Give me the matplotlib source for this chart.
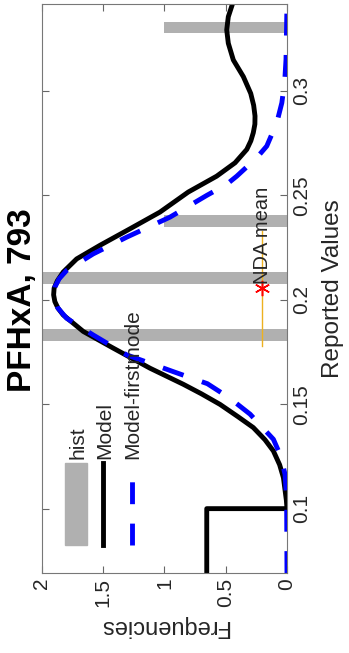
import matplotlib.pyplot as plt
from matplotlib.patches import Rectangle
from matplotlib.lines import Line2D

plt.rcParams['font.family'] = ['Liberation Sans', 'DejaVu Sans']

# histogram of reported values
hist_v = [0.1831, 0.2104, 0.2376, 0.3303]
hist_f = [2.0, 2.0, 1.0, 1.0]
bin_w = 0.0055

# full model
model_v = [0.0692, 0.1000, 0.1000, 0.1040, 0.1148, 0.1210, 0.1276, 0.1330, 0.1388,
           0.1440, 0.1499, 0.1550, 0.1595, 0.1672, 0.1768, 0.1848, 0.1927, 0.1960,
           0.1991, 0.2023, 0.2055, 0.2090, 0.2132, 0.2195, 0.2260, 0.2339, 0.2419,
           0.2515, 0.2591, 0.2655, 0.2719, 0.2760, 0.2799, 0.2840, 0.2879, 0.2930,
           0.2987, 0.3067, 0.3147, 0.3227, 0.3291, 0.3354, 0.3415]
model_f = [0.655, 0.655, 0.000, 0.005, 0.029, 0.060, 0.111, 0.180, 0.275,
           0.400, 0.547, 0.700, 0.846, 1.118, 1.418, 1.663, 1.827, 1.870,
           1.895, 1.905, 1.901, 1.875, 1.827, 1.717, 1.527, 1.282, 1.037,
           0.806, 0.574, 0.424, 0.328, 0.295, 0.275, 0.262, 0.261, 0.272,
           0.296, 0.356, 0.438, 0.479, 0.492, 0.479, 0.445]

# first mode only
first_v = [0.0692, 0.1050, 0.1164, 0.1250, 0.1332, 0.1452, 0.1530, 0.1598, 0.1656,
           0.1736, 0.1831, 0.1911, 0.1960, 0.2007, 0.2035, 0.2060, 0.2100, 0.2140,
           0.2219, 0.2299, 0.2395, 0.2499, 0.2552, 0.2591, 0.2679, 0.2735, 0.2847,
           0.2942, 0.3050, 0.3150, 0.3415]
first_f = [0.0, 0.003, 0.016, 0.050, 0.111, 0.301, 0.470, 0.650, 0.930,
           1.309, 1.582, 1.799, 1.870, 1.895, 1.900, 1.895, 1.860, 1.799,
           1.582, 1.309, 0.955, 0.655, 0.492, 0.410, 0.247, 0.165, 0.083,
           0.042, 0.018, 0.008, 0.0]

nda_mean = 0.2054
nda_lo, nda_hi = 0.1778, 0.2330
nda_f = 0.2

freq_ticks = [0, 0.5, 1, 1.5, 2]
freq_labels = ['0', '0.5', '1', '1.5', '2']
val_ticks = [0.1, 0.15, 0.2, 0.25, 0.3]
val_labels = ['0.1', '0.15', '0.2', '0.25', '0.3']

gray = '#b0b0b0'
blue_dash = (0, (4.5, 4.0))

fig = plt.figure(figsize=(3.49, 6.53), dpi=100)
ax = fig.add_axes([0.1203, 0.1225, 0.702, 0.8714])

# plot is drawn turned a quarter: values run up, frequencies run right-to-left
ax.barh(hist_v, hist_f, height=bin_w, color=gray, zorder=1)
ax.plot(model_f, model_v, color='black', lw=3.5, zorder=2)
ax.plot(first_f, first_v, color='#0000ff', lw=3.5, ls=blue_dash, zorder=3)
ax.plot([nda_f, nda_f], [nda_lo, nda_hi], color='#EDB120', lw=1.0, zorder=4)
ax.plot(nda_f, nda_mean, marker=(6, 2, 0), color='red', ms=11, mew=1.1, zorder=5)
ax.text(nda_f, nda_mean + 0.002, 'NDA mean', rotation=90, fontsize=14.5,
        ha='center', va='bottom', color='#262626', zorder=6)

ax.set_xlim(2, 0)
ax.set_ylim(0.0692, 0.3415)
ax.set_xticks(freq_ticks)
ax.set_xticklabels(freq_labels, rotation=90)
ax.set_yticks(val_ticks)
ax.set_yticklabels(val_labels, rotation=90, va='center')
ax.tick_params(direction='in', length=5, width=0.8, colors='#666666',
               labelcolor='#262626', labelsize=15,
               top=True, bottom=True, left=True, right=True,
               labelleft=False, labelright=True)
for s in ax.spines.values():
    s.set_color('#777777')
    s.set_linewidth(0.8)

ax.set_xlabel('Frequencies', rotation=180, fontsize=17, color='#262626', labelpad=6)
ax.yaxis.set_label_position('right')
ax.set_ylabel('Reported Values', rotation=90, fontsize=17.5, color='#262626', labelpad=8)
ax.text(-0.08, 0.48, 'PFHxA, 793', transform=ax.transAxes, rotation=90,
        fontsize=24, fontweight='bold', ha='center', va='center')

# hand-made legend, turned like the rest
tr = ax.transAxes
ax.add_patch(Rectangle((0.094, 0.049), 0.09, 0.144, transform=tr,
                       color=gray, zorder=6))
ax.add_line(Line2D([0.250, 0.250], [0.049, 0.193], transform=tr,
                   color='black', lw=3.5, zorder=6))
ax.add_line(Line2D([0.366, 0.366], [0.049, 0.193], transform=tr,
                   color='#0000ff', lw=3.5, ls=blue_dash, zorder=6))
for xx, lab in [(0.147, 'hist'), (0.257, 'Model'), (0.369, 'Model-firstmode')]:
    ax.text(xx, 0.200, lab, transform=tr, rotation=90, fontsize=15,
            ha='center', va='bottom', color='#262626', zorder=6)

fig.savefig('out.png', dpi=100)
